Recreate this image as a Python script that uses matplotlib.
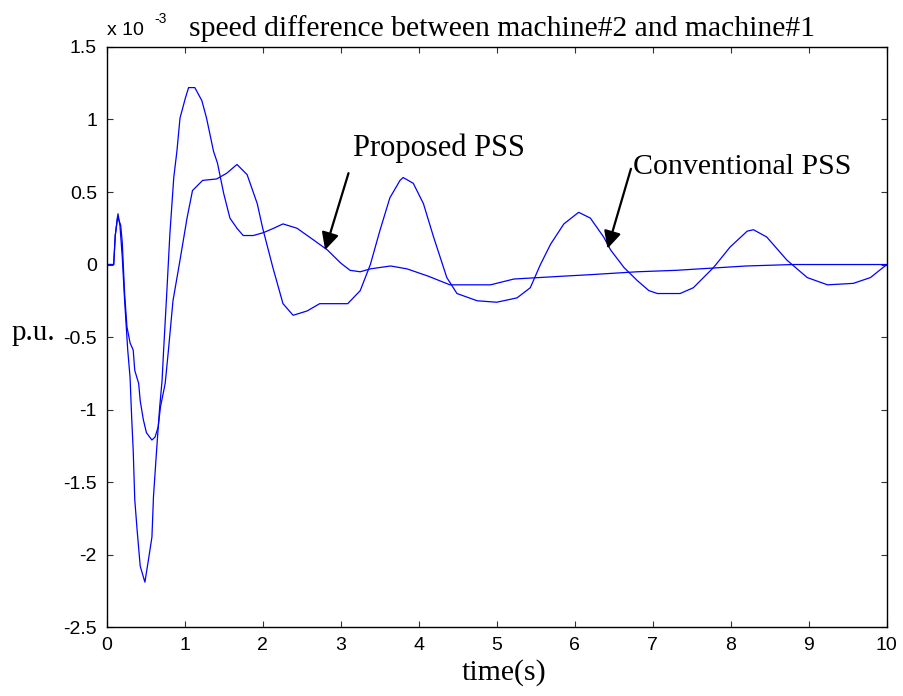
import matplotlib
matplotlib.use("Agg")
import matplotlib.pyplot as plt
import numpy as np

# speed difference (units of 1e-3 p.u.) versus time (s)
t_proposed = [0, 0.09, 0.11, 0.145, 0.17, 0.2, 0.23, 0.27, 0.3, 0.32, 0.34, 0.36, 0.39,
              0.43, 0.49, 0.54, 0.58, 0.6, 0.64, 0.68, 0.71, 0.73, 0.77, 0.81, 0.86,
              0.9, 0.94, 1.01, 1.05, 1.13, 1.22, 1.28, 1.37, 1.42, 1.5, 1.58, 1.67,
              1.75, 1.88, 2.01, 2.14, 2.26, 2.44, 2.65, 2.83, 3.0, 3.12, 3.25, 3.38,
              3.64, 3.85, 4.12, 4.4, 4.92, 5.22, 5.86, 6.2, 6.8, 7.3, 7.6, 8.2, 8.8, 10.0]
v_proposed = [0, 0, 0.2, 0.35, 0.27, 0.05, -0.25, -0.59, -0.78, -1.05, -1.28, -1.62, -1.83,
              -2.08, -2.19, -2.02, -1.88, -1.6, -1.28, -0.98, -0.8, -0.59, -0.2, 0.21, 0.6,
              0.78, 1.01, 1.15, 1.22, 1.22, 1.13, 1.01, 0.78, 0.7, 0.49, 0.32, 0.25,
              0.2, 0.2, 0.22, 0.25, 0.28, 0.25, 0.17, 0.1, 0.01, -0.04, -0.05, -0.03,
              -0.01, -0.03, -0.08, -0.14, -0.14, -0.1, -0.08, -0.07, -0.05, -0.04, -0.03,
              -0.01, 0.0, 0.0]

t_conventional = [0, 0.09, 0.11, 0.14, 0.18, 0.2, 0.23, 0.26, 0.3, 0.34, 0.36, 0.41, 0.43,
                  0.47, 0.51, 0.58, 0.62, 0.66, 0.69, 0.75, 0.79, 0.85, 0.94, 1.03, 1.1,
                  1.23, 1.41, 1.54, 1.67, 1.8, 1.93, 2.0, 2.13, 2.26, 2.39, 2.57, 2.73,
                  3.09, 3.25, 3.38, 3.5, 3.63, 3.76, 3.8, 3.93, 4.06, 4.19, 4.36, 4.49,
                  4.75, 5.0, 5.26, 5.43, 5.56, 5.69, 5.86, 6.05, 6.2, 6.37, 6.46, 6.63,
                  6.8, 6.95, 7.06, 7.35, 7.52, 7.78, 7.99, 8.21, 8.29, 8.46, 8.72, 8.98,
                  9.24, 9.57, 9.79, 10.0]
v_conventional = [0, 0, 0.2, 0.33, 0.27, 0.15, -0.2, -0.43, -0.54, -0.59, -0.73, -0.82, -0.94,
                  -1.07, -1.16, -1.21, -1.19, -1.12, -0.98, -0.82, -0.6, -0.25, 0.03, 0.32, 0.51,
                  0.58, 0.59, 0.63, 0.69, 0.62, 0.42, 0.25, -0.02, -0.27, -0.35, -0.32, -0.27,
                  -0.27, -0.18, 0.0, 0.23, 0.46, 0.58, 0.6, 0.56, 0.42, 0.19, -0.09, -0.2,
                  -0.25, -0.26, -0.23, -0.16, 0.0, 0.14, 0.28, 0.36, 0.32, 0.19, 0.1, -0.02,
                  -0.11, -0.18, -0.2, -0.2, -0.16, -0.02, 0.12, 0.23, 0.24, 0.19, 0.03, -0.09,
                  -0.14, -0.13, -0.09, 0.0]

x_ticks = [0, 1, 2, 3, 4, 5, 6, 7, 8, 9, 10]
y_ticks = [-2.5, -2, -1.5, -1, -0.5, 0, 0.5, 1, 1.5]

serif = ["Liberation Serif", "DejaVu Serif"]
sans = ["Liberation Sans", "DejaVu Sans"]

fig = plt.figure(figsize=(9.04, 6.96), dpi=100)
ax = fig.add_axes([0.118, 0.099, 0.863, 0.8335])

ax.plot(t_proposed, v_proposed, color=(0, 0, 1), lw=0.9)
ax.plot(t_conventional, v_conventional, color=(0, 0, 1), lw=0.9)

ax.set_xlim(0, 10)
ax.set_ylim(-2.5, 1.5)
ax.set_xticks(x_ticks)
ax.set_yticks(y_ticks)
ax.set_xticklabels([f"{v:g}" for v in x_ticks], fontfamily=sans, fontsize=14)
ax.set_yticklabels([f"{v:g}" for v in y_ticks], fontfamily=sans, fontsize=14)
ax.tick_params(direction="in", length=4, width=0.8, top=True, right=True, color="#333333")
ax.tick_params(axis="y", pad=7)
ax.tick_params(axis="x", pad=7)
for s in ax.spines.values():
    s.set_linewidth(1.0)

# exponent marker
ax.text(0.0, 1.014, "x 10", transform=ax.transAxes, fontfamily=sans, fontsize=14,
        ha="left", va="bottom")
ax.annotate("-3", xy=(0.0, 1.014), xycoords="axes fraction", xytext=(34, 9),
            textcoords="offset points", fontfamily=sans, fontsize=10, ha="left", va="bottom")

ax.set_title("speed difference between machine#2 and machine#1", fontfamily=serif,
             fontsize=21.3, pad=8, x=0.507)
ax.set_xlabel("time(s)", fontfamily=serif, fontsize=21.5, labelpad=3)
ax.xaxis.set_label_coords(0.509, -0.055)
ax.set_ylabel("p.u.", fontfamily=serif, fontsize=21, rotation=0, ha="left", va="center")
ax.yaxis.set_label_coords(-0.122, 0.507)

arrow = dict(arrowstyle="-|>", color="k", lw=1.6, mutation_scale=26, shrinkA=0, shrinkB=0)
ax.annotate("", xy=(2.8, 0.1), xytext=(3.1, 0.63), arrowprops=arrow)
ax.text(3.16, 0.8, "Proposed PSS", fontfamily=serif, fontsize=22, ha="left", va="center")
ax.annotate("", xy=(6.42, 0.11), xytext=(6.72, 0.66), arrowprops=arrow)
ax.text(6.75, 0.67, "Conventional PSS", fontfamily=serif, fontsize=21.5, ha="left", va="center")

fig.savefig("out.png", dpi=100)
